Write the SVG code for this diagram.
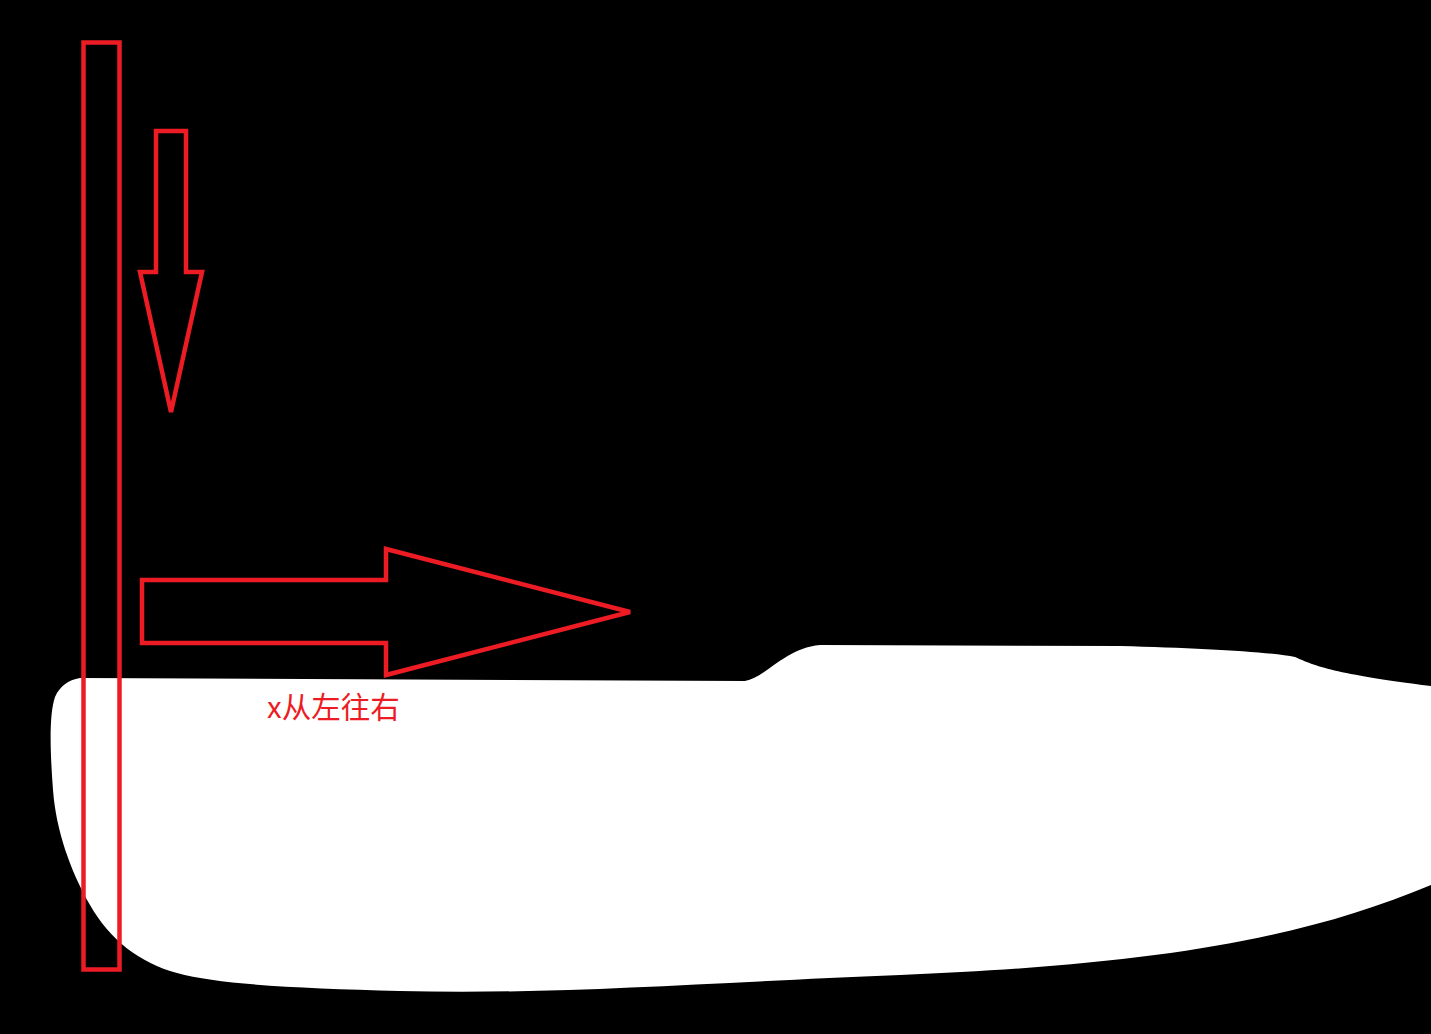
<svg xmlns="http://www.w3.org/2000/svg" width="1431" height="1034" viewBox="0 0 1431 1034">
<style>
.red{fill:none;stroke:#ed1c24;stroke-width:4.5;stroke-linejoin:miter}
.lbl{font-family:"Microsoft YaHei","Noto Sans CJK SC",sans-serif;font-size:29.5px;fill:#ed1c24}
</style>
<rect x="0" y="0" width="1431" height="1034" fill="#000"/>
<g id="blob">
<path fill="#fff" d="M80,678 L745,681 C765,678 785,648 820,645 L1120,646 C1200,648 1270,652 1295,657 C1315,666 1335,674 1431,686 L1431,885 C1300,940 1150,965 900,975 C700,983 550,995 400,991 C300,988 220,985 177,973 C140,963 110,940 90,905 C70,870 56,830 53,790 C50,750 49,715 55,697 C60,686 68,680 80,678 Z"/>
</g>
<g id="bar"><rect class="red" x="83.5" y="42.5" width="36" height="927"/></g>
<g id="arrow-down"><polygon class="red" points="156,131 186,131 186,272 202,272 171,412 140,272 156,272"/></g>
<g id="arrow-right"><polygon class="red" points="142,580 386,580 386,549 630,612 386,675 386,643 142,643"/></g>
<g id="label"><text class="lbl" x="267" y="718">x从左往右</text></g>
</svg>
